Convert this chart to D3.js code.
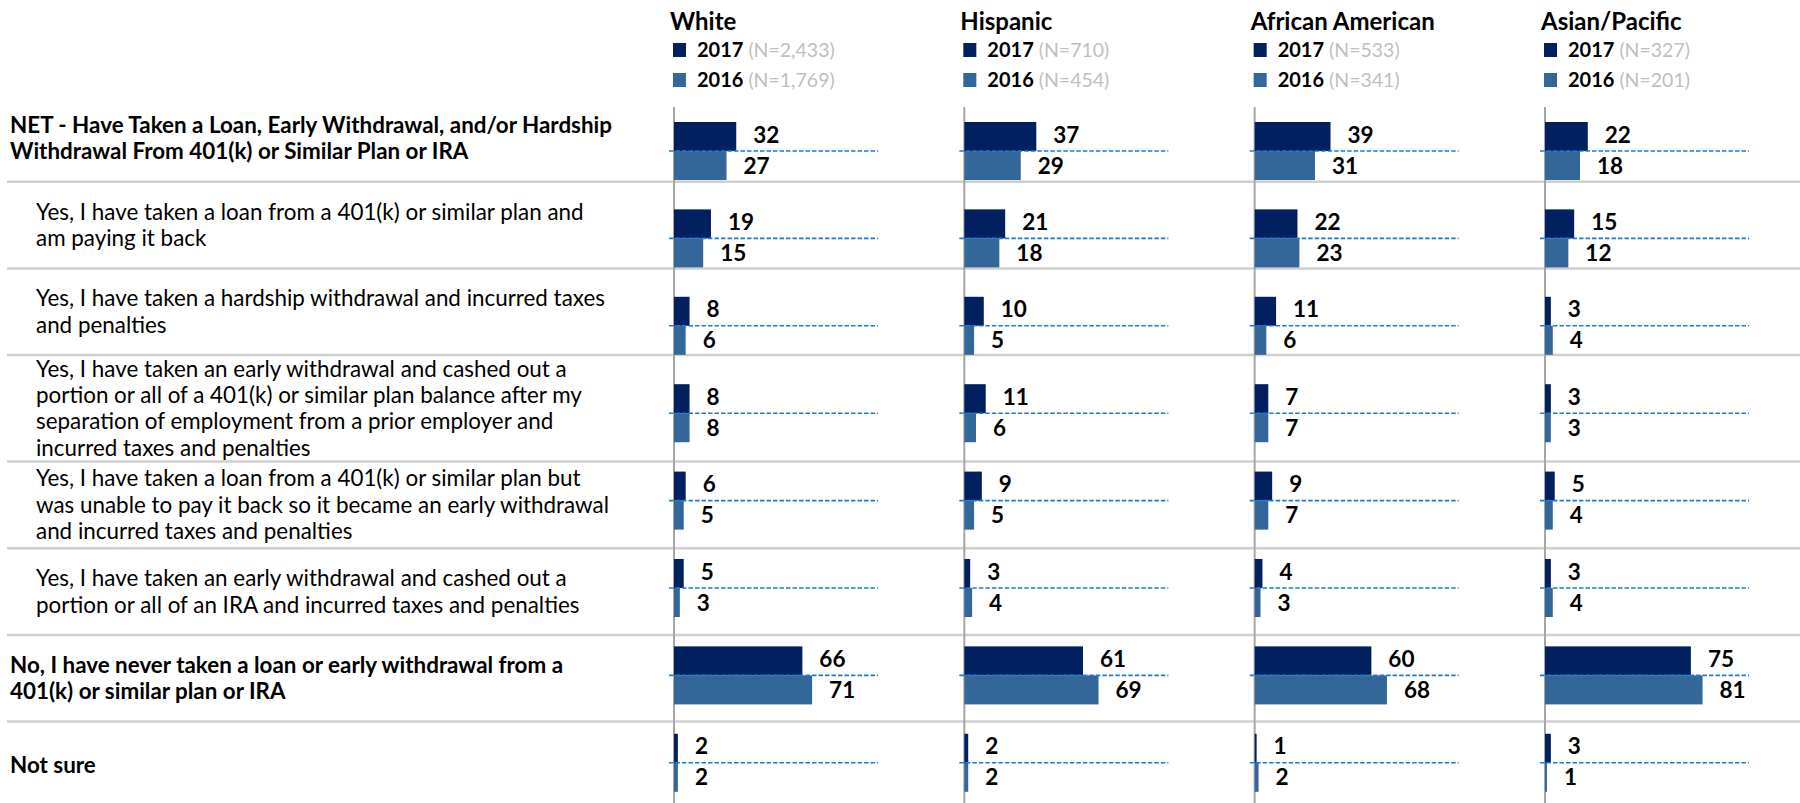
<!DOCTYPE html>
<html>
<head>
<meta charset="utf-8">
<script src="https://cdn.jsdelivr.net/npm/d3@7/dist/d3.min.js"></script>
<style>
  html, body { margin: 0; padding: 0; background: #ffffff; }
  svg { display: block; }
  text { font-family: Lato, "Open Sans", sans-serif; }
</style>
</head>
<body>
<svg id="chart" width="1800" height="803"></svg>
<script>
// Survey groups (one panel each) and the two survey years
const groups = ["White", "Hispanic", "African American", "Asian/Pacific"];
const years = ["2017", "2016"];
const sampleSizes2017 = ["2,433", "710", "533", "327"];
const sampleSizes2016 = ["1,769", "454", "341", "201"];

// Answer categories, already broken into display lines
const categoryLines = [
  ["NET - Have Taken a Loan, Early Withdrawal, and/or Hardship", "Withdrawal From 401(k) or Similar Plan or IRA"],
  ["Yes, I have taken a loan from a 401(k) or similar plan and", "am paying it back"],
  ["Yes, I have taken a hardship withdrawal and incurred taxes", "and penalties"],
  ["Yes, I have taken an early withdrawal and cashed out a", "portion or all of a 401(k) or similar plan balance after my", "separation of employment from a prior employer and", "incurred taxes and penalties"],
  ["Yes, I have taken a loan from a 401(k) or similar plan but", "was unable to pay it back so it became an early withdrawal", "and incurred taxes and penalties"],
  ["Yes, I have taken an early withdrawal and cashed out a", "portion or all of an IRA and incurred taxes and penalties"],
  ["No, I have never taken a loan or early withdrawal from a", "401(k) or similar plan or IRA"],
  ["Not sure"]
];
// Top-level answers are bold and not indented
const summaryRows = [true, false, false, false, false, false, true, true];

// Percentages per group and year, in category order
const white2017 = [32, 19, 8, 8, 6, 5, 66, 2];
const white2016 = [27, 15, 6, 8, 5, 3, 71, 2];
const hispanic2017 = [37, 21, 10, 11, 9, 3, 61, 2];
const hispanic2016 = [29, 18, 5, 6, 5, 4, 69, 2];
const africanAmerican2017 = [39, 22, 11, 7, 9, 4, 60, 1];
const africanAmerican2016 = [31, 23, 6, 7, 7, 3, 68, 2];
const asianPacific2017 = [22, 15, 3, 3, 5, 3, 75, 3];
const asianPacific2016 = [18, 12, 4, 3, 4, 4, 81, 1];

const values = {
  "White": { "2017": white2017, "2016": white2016 },
  "Hispanic": { "2017": hispanic2017, "2016": hispanic2016 },
  "African American": { "2017": africanAmerican2017, "2016": africanAmerican2016 },
  "Asian/Pacific": { "2017": asianPacific2017, "2016": asianPacific2016 }
};
const sampleSizes = {};
groups.forEach((g, i) => sampleSizes[g] = { "2017": sampleSizes2017[i], "2016": sampleSizes2016[i] });

const colors = { "2017": "#002060", "2016": "#336699" };

const W = 1800, H = 803;
const svg = d3.select("#chart");

// Scales
const panelX = d3.scalePoint().domain(groups).range([674, 1545]);
const x = d3.scaleLinear().domain([0, 100]).range([0, 194.5]);
const idx = d3.range(categoryLines.length);
const yBand = d3.scaleBand().domain(idx).range([122, 791.8]).paddingInner(0.336);
const yYear = d3.scaleBand().domain(years).range([0, yBand.bandwidth()]);

// Table rows on the left: height grows with the number of label lines
const lineH = 26.3;
const rowTop = 95;
const rowHeights = categoryLines.map(l => Math.max(86.7, l.length * lineH + 1.2));
const rowStarts = [];
rowHeights.reduce((acc, h) => { rowStarts.push(acc); return acc + h; }, rowTop);

// Row separators
svg.append("g").selectAll("line")
  .data(idx.slice(0, -1))
  .join("line")
  .attr("x1", 7).attr("x2", W)
  .attr("y1", i => rowStarts[i] + rowHeights[i])
  .attr("y2", i => rowStarts[i] + rowHeights[i])
  .attr("stroke", "#cfcfcf")
  .attr("stroke-width", 2.5);

// Category labels
const labels = svg.append("g").selectAll("text")
  .data(idx)
  .join("text")
  .attr("font-size", 22.4)
  .attr("font-weight", i => summaryRows[i] ? 700 : 400)
  .attr("fill", "#000");
labels.each(function(i) {
  const lines = categoryLines[i];
  const center = rowStarts[i] + rowHeights[i] / 2;
  const first = center - (lines.length - 1) * lineH / 2;
  d3.select(this).selectAll("tspan")
    .data(lines)
    .join("tspan")
    .attr("x", summaryRows[i] ? 10 : 36)
    .attr("y", (d, k) => first + k * lineH)
    .attr("dy", "0.35em")
    .text(d => d);
});

// Panels
groups.forEach(g => {
  const x0 = panelX(g);
  const p = svg.append("g").attr("transform", `translate(${x0},0)`);

  // Header
  p.append("text")
    .attr("x", -4).attr("y", 30)
    .attr("font-size", 24).attr("font-weight", 700)
    .text(g);

  // Legend
  years.forEach((yr, k) => {
    const cy = 50 + k * 30;
    p.append("rect")
      .attr("x", -1).attr("y", cy - 7)
      .attr("width", 13).attr("height", 14)
      .attr("fill", colors[yr]);
    const t = p.append("text")
      .attr("x", 23).attr("y", cy).attr("dy", "0.36em")
      .attr("font-size", 20);
    t.append("tspan").attr("font-weight", 700).attr("fill", "#000").text(yr);
    t.append("tspan").attr("fill", "#bfbfbf").attr("font-size", 19.5).text(` (N=${sampleSizes[g][yr]})`);
  });

  // Axis line
  p.append("line")
    .attr("x1", 0).attr("x2", 0)
    .attr("y1", 107).attr("y2", H)
    .attr("stroke", "#a6a6a6").attr("stroke-width", 2);

  // Bars
  idx.forEach(i => {
    const gy = yBand(i);
    years.forEach(yr => {
      const v = values[g][yr][i];
      p.append("rect")
        .attr("x", 0)
        .attr("y", gy + yYear(yr))
        .attr("width", x(v))
        .attr("height", yYear.bandwidth())
        .attr("fill", colors[yr]);
      p.append("text")
        .attr("x", x(v) + 17)
        .attr("y", gy + yYear(yr) + yYear.bandwidth() / 2 - (yr === "2017" ? 2 : 0))
        .attr("dy", "0.36em")
        .attr("font-size", 22.5).attr("font-weight", 700)
        .attr("fill", "#000")
        .text(v);
    });
    // Dashed divider between the two years
    const ym = gy + yYear.bandwidth();
    p.append("line")
      .attr("x1", -5).attr("x2", 204)
      .attr("y1", ym).attr("y2", ym)
      .attr("stroke", "#1f7ad0").attr("stroke-width", 1.6)
      .attr("stroke-dasharray", "4.5,2");
  });
});
</script>
</body>
</html>
